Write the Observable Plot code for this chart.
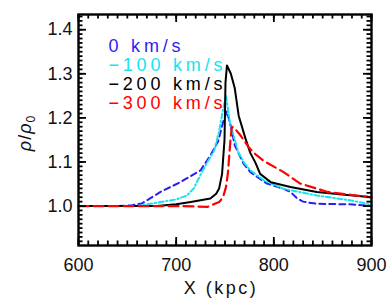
<!DOCTYPE html>
<html><head><meta charset="utf-8">
<script src="https://cdn.jsdelivr.net/npm/d3@7"></script>
<script src="https://cdn.jsdelivr.net/npm/@observablehq/plot@0.6"></script>
<style>
body{margin:0;background:#fff}
svg{font-family:"Liberation Sans",Arial,sans-serif}
</style>
</head><body><div id="chart"></div>
<script>
// Series data
const xBlue = [600, 640, 655, 665, 684, 704, 725, 735, 743, 748, 752, 756, 760, 769, 776, 783, 793, 810, 817, 824, 830, 844, 878, 900];
const yBlue = [1.0, 1.0, 1.002, 1.006, 1.032, 1.054, 1.081, 1.115, 1.147, 1.19, 1.215, 1.18, 1.138, 1.096, 1.077, 1.066, 1.051, 1.039, 1.032, 1.017, 1.01, 1.005, 1.004, 1.0];

const xCyan = [600, 660, 684, 700, 711, 718, 722, 730, 739, 744, 748, 751, 755, 760, 764, 770, 776, 790, 810, 844, 878, 900];
const yCyan = [1.0, 1.0, 1.009, 1.015, 1.024, 1.04, 1.058, 1.092, 1.126, 1.17, 1.22, 1.25, 1.19, 1.15, 1.12, 1.097, 1.081, 1.058, 1.039, 1.024, 1.013, 1.003];

const xBlack = [600, 680, 700, 715, 735, 741, 744, 747, 749.5, 750.5, 752, 756, 760, 764, 771, 776, 781, 786, 797, 817, 844, 870, 900];
const yBlack = [1.0, 1.0, 1.004, 1.009, 1.017, 1.028, 1.04, 1.073, 1.15, 1.28, 1.319, 1.3, 1.267, 1.205, 1.153, 1.12, 1.099, 1.073, 1.054, 1.043, 1.032, 1.026, 1.02];

const xRed = [600, 700, 720, 732, 744, 748, 751, 753, 754, 755.6, 757, 760, 766, 774, 781, 790, 810, 827, 855, 880, 900];
const yRed = [1.0, 1.0, 0.999, 0.998, 1.009, 1.02, 1.043, 1.075, 1.104, 1.15, 1.18, 1.176, 1.16, 1.134, 1.118, 1.102, 1.077, 1.051, 1.032, 1.025, 1.02];

const seriesNames = ["0 km/s", "\u2212100 km/s", "\u2212200 km/s", "\u2212300 km/s"];
const seriesColors = ["#2c1ef0", "#18e2f0", "#000000", "#ff0000"];
const seriesDash = ["6,4", "5,2.5,1.5,2.5", null, "10,5"];
const seriesWidth = [2, 2, 2, 2.2];

const xTicks = [600, 700, 800, 900];
const yTicks = [1.0, 1.1, 1.2, 1.3, 1.4];
const yTickLabels = ["1.0", "1.1", "1.2", "1.3", "1.4"];
const xLabel = "X (kpc)";

const xDomain = [600, 900];
const yDomain = [0.9105, 1.4345];

const W = 390, H = 301;
const mL = 78, mR = 19, mT = 14, mB = 56;
const fw = W - mL - mR, fh = H - mT - mB;

const xMinor = d3.range(600, 901, 10);
const yMinor = d3.range(92, 144).map(d => d / 100);

const series = [[xBlue, yBlue], [xCyan, yCyan], [xBlack, yBlack], [xRed, yRed]];
const lineMarks = series.map(([xs, ys], i) =>
  Plot.line(xs.map((x, j) => ({x, y: ys[j]})), {
    x: "x", y: "y", stroke: seriesColors[i], strokeWidth: seriesWidth[i],
    strokeDasharray: seriesDash[i] || undefined, strokeLinejoin: "round"
  })
);

const tickStyle = {stroke: "black", strokeWidth: 1.8};
const minorLen = 4.5, majorLen = 8;
const legendMarks = seriesNames.map((name, i) =>
  Plot.text([name], {text: d => d, frameAnchor: "top-left", dx: 30, dy: 25 + i * 19,
    fill: seriesColors[i], fontSize: 18, textAnchor: "start", lineAnchor: "top"})
);

const chart = Plot.plot({
  width: W, height: H,
  marginLeft: mL, marginRight: mR, marginTop: mT, marginBottom: mB,
  x: {domain: xDomain},
  y: {domain: yDomain},
  marks: [
    ...lineMarks,
    Plot.tickX(xMinor, {x: d => d, insetTop: fh - minorLen, ...tickStyle}),
    Plot.tickX(xMinor, {x: d => d, insetBottom: fh - minorLen, ...tickStyle}),
    Plot.tickY(yMinor, {y: d => d, insetRight: fw - minorLen, ...tickStyle}),
    Plot.tickY(yMinor, {y: d => d, insetLeft: fw - minorLen, ...tickStyle}),
    Plot.tickX(xTicks, {x: d => d, insetTop: fh - majorLen, ...tickStyle}),
    Plot.tickX(xTicks, {x: d => d, insetBottom: fh - majorLen, ...tickStyle}),
    Plot.tickY(yTicks, {y: d => d, insetRight: fw - majorLen, ...tickStyle}),
    Plot.tickY(yTicks, {y: d => d, insetLeft: fw - majorLen, ...tickStyle}),
    Plot.frame({stroke: "black", strokeWidth: 2.4}),
    Plot.axisX(xTicks, {tickSize: 0, tickPadding: 13, fontSize: 18, tickFormat: d => String(d), label: null, fill: "#111"}),
    Plot.axisY(yTicks, {tickSize: 0, tickPadding: 6, fontSize: 18, tickFormat: (d, i) => yTickLabels[i], label: null, fill: "#111"}),
    Plot.text([xLabel], {text: d => d, frameAnchor: "bottom", dx: -4, dy: 36, lineAnchor: "top", fontSize: 18, fill: "#111"}),
    ...legendMarks
  ]
});

const svg = d3.select(chart);
svg.selectAll("text").each(function() {
  const t = this.textContent;
  if (seriesNames.includes(t)) this.style.letterSpacing = "3.8px";
  else if (t === xLabel) this.style.letterSpacing = "2.5px";
});
const yl = svg.append("text")
  .attr("transform", "translate(31,133) rotate(-90)")
  .attr("text-anchor", "middle")
  .attr("font-size", 18)
  .attr("fill", "#111")
  .style("letter-spacing", "1px");
yl.append("tspan").attr("font-style", "italic").text("\u03c1");
yl.append("tspan").text("/");
yl.append("tspan").attr("font-style", "italic").text("\u03c1");
yl.append("tspan").attr("font-size", 12).attr("dy", 4).text("0");

document.getElementById("chart").appendChild(chart);
</script>
</body></html>
